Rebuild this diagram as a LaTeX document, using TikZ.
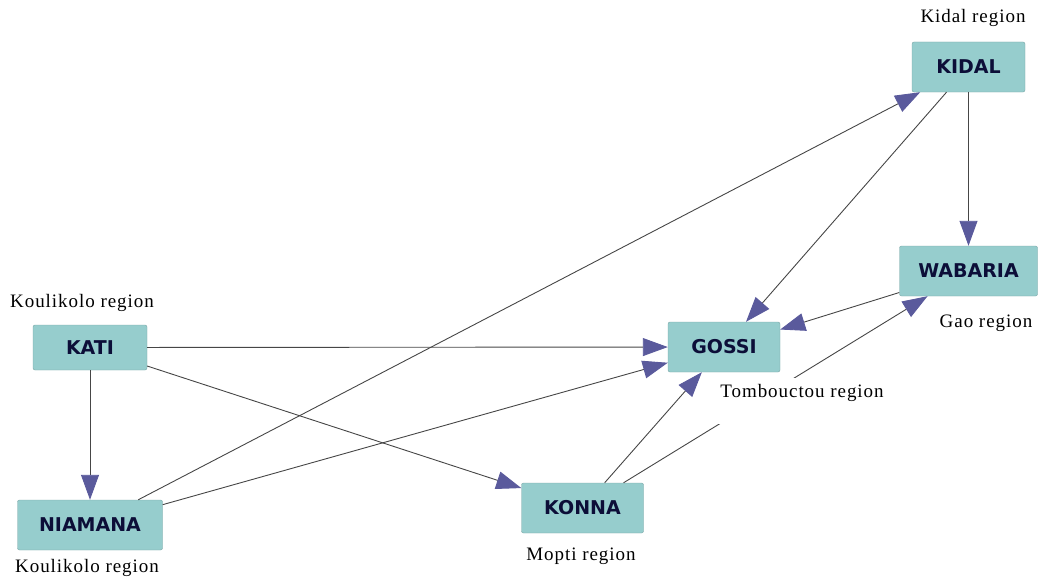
\documentclass[tikz,border=0pt]{standalone}
\usepackage{fontspec}
\newfontfamily\regfont[LetterSpace=5]{Liberation Serif}
\newfontfamily\townfont{DejaVu Sans}
\usepackage{tikz}
\usetikzlibrary{arrows.meta}

\definecolor{townfill}{RGB}{150,205,205}
\definecolor{townline}{RGB}{120,165,165}
\definecolor{towntext}{RGB}{12,14,56}
\definecolor{linkc}{RGB}{70,70,70}
\definecolor{arrowc}{RGB}{90,90,156}

\tikzset{
  town/.style={draw=townline,fill=townfill,rounded corners=2pt,minimum height=50pt,
    font=\townfont\bfseries\fontsize{19}{21}\selectfont,text=towntext},
  reg/.style={font=\regfont\fontsize{19}{22}\selectfont},
  link/.style={draw=linkc,line width=0.9pt,-{Triangle[length=25pt,width=18pt,color=arrowc]}}
}

\begin{document}
\begin{tikzpicture}[x=10pt,y=-10pt]
    \useasboundingbox (0,0) rectangle (103.8,58.6);

    \node (kati) at (9.0,34.75) [town,minimum width=114pt,minimum height=45pt] {KATI};
    \node (niamana) at (9.0,52.5) [town,minimum width=145pt] {NIAMANA};
    \node (gossi) at (72.4,34.7) [town,minimum width=112pt] {GOSSI};
    \node (konna) at (58.25,50.8) [town,minimum width=122pt] {KONNA};
    \node (kidal) at (96.85,6.7) [town,minimum width=113pt] {KIDAL};
    \node (wabaria) at (96.85,27.1) [town,minimum width=138pt] {WABARIA};

    \node (lkidal) at (97.3,1.8) [reg] {Kidal region};
    \node (lkati) at (8.2,30.3) [reg] {Koulikolo region};
    \node (lwabaria) at (98.6,32.3) [reg] {Gao region};
    \node (lkonna) at (58.1,55.6) [reg] {Mopti region};
    \node (lniamana) at (8.7,56.8) [reg] {Koulikolo region};

    \draw[link] (kati) to (gossi);
    \draw[link] (kati) to (niamana);
    \draw[link] (kati) to (konna);
    \draw[link] (niamana) to (kidal);
    \draw[link] (niamana) to (gossi);
    \draw[link] (konna) to (gossi);
    \draw[link] (konna) to (wabaria);
    \draw[link] (kidal) to (gossi);
    \draw[link] (kidal) to (wabaria);
    \draw[link] (wabaria) to (gossi);

    % label over the konna-wabaria line
    \node (lgossi) at (80.2,37.8) [reg,anchor=north,fill=white,inner sep=3pt,
      text height=16pt,text depth=24pt] {Tombouctou region};
\end{tikzpicture}
\end{document}
